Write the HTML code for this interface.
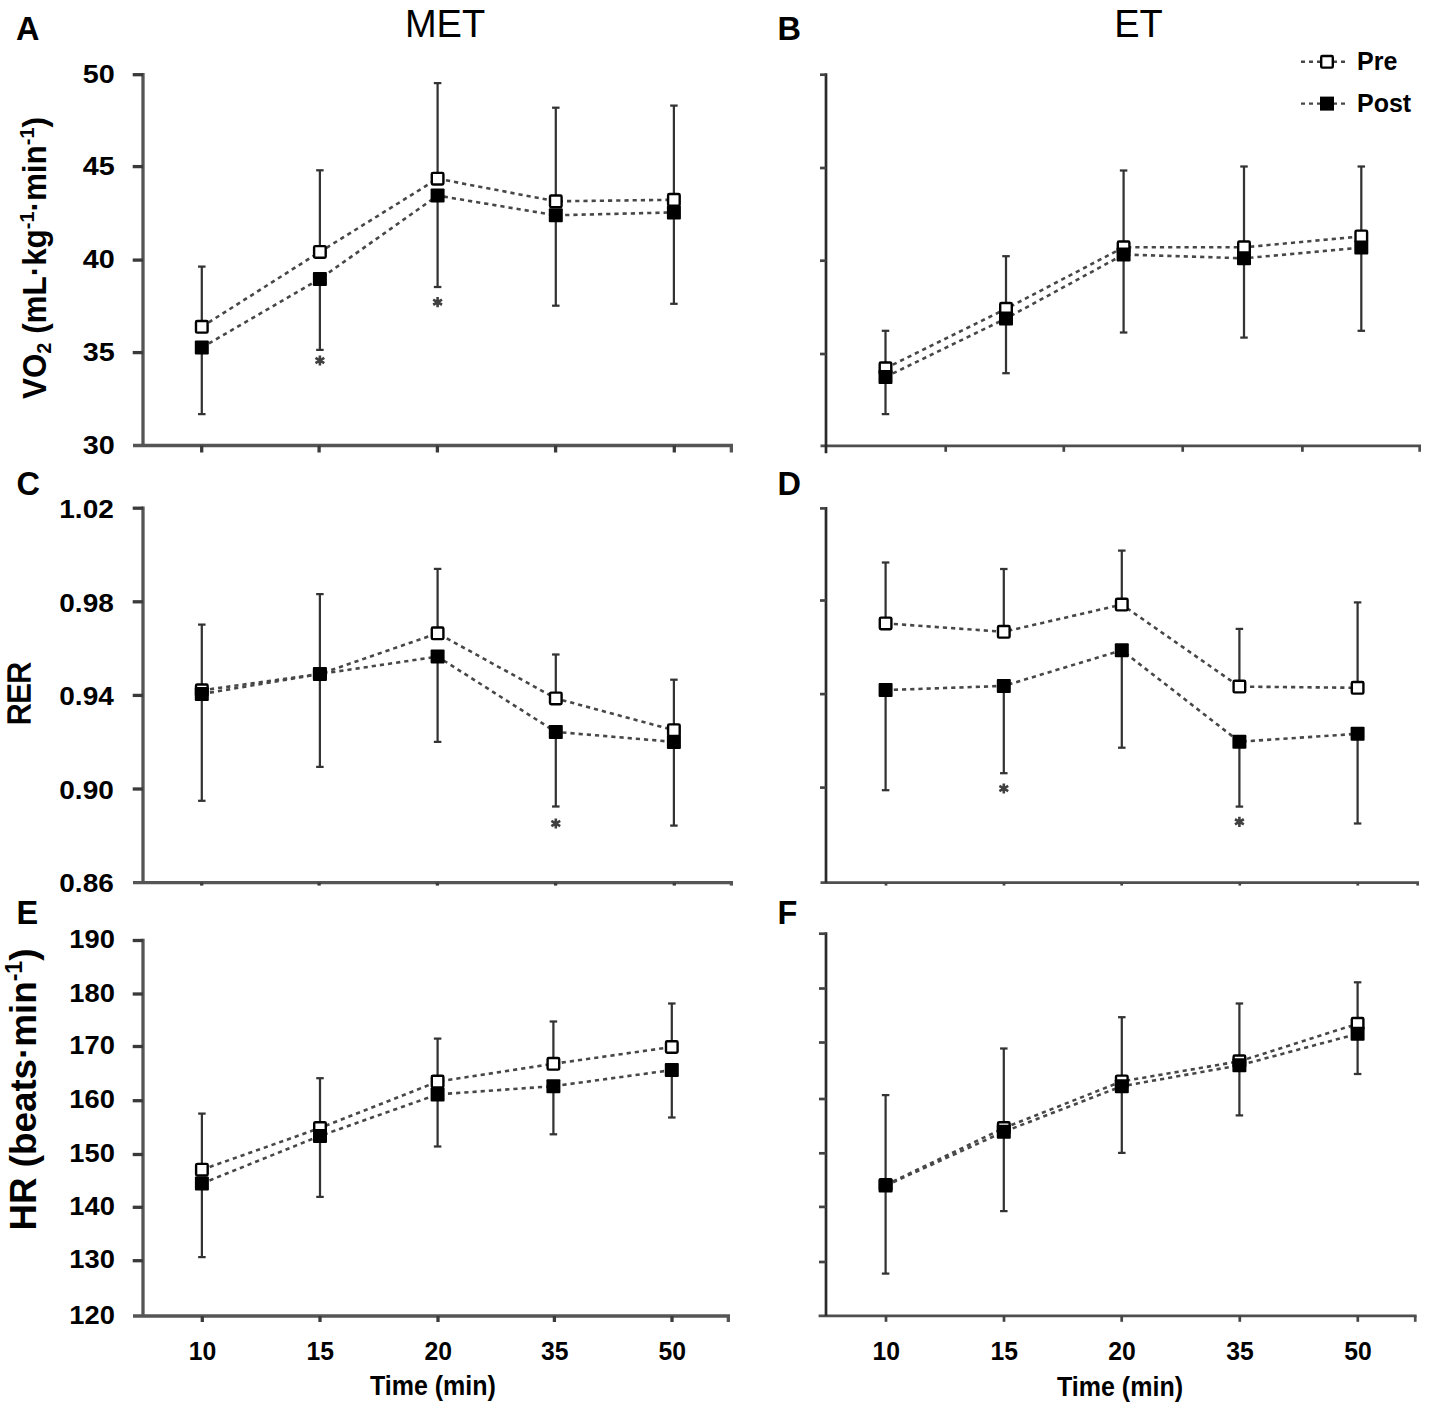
<!DOCTYPE html>
<html><head><meta charset="utf-8"><style>
html,body{margin:0;padding:0;background:#fff;}
body{width:1429px;height:1415px;overflow:hidden;}
svg{display:block;}
#wrap{width:1429px;height:1415px;}
</style></head><body><div id="wrap">
<svg width="1429" height="1415" viewBox="0 0 1429 1415" font-family='"Liberation Sans", sans-serif'>
<rect width="1429" height="1415" fill="#fff"/>
<line x1="133.00" y1="445.50" x2="733.00" y2="445.50" stroke="#555" stroke-width="3.3" />
<line x1="201.70" y1="445.50" x2="201.70" y2="452.50" stroke="#3a3a3a" stroke-width="3.3" />
<line x1="319.10" y1="445.50" x2="319.10" y2="452.50" stroke="#3a3a3a" stroke-width="3.3" />
<line x1="437.40" y1="445.50" x2="437.40" y2="452.50" stroke="#3a3a3a" stroke-width="3.3" />
<line x1="555.60" y1="445.50" x2="555.60" y2="452.50" stroke="#3a3a3a" stroke-width="3.3" />
<line x1="674.30" y1="445.50" x2="674.30" y2="452.50" stroke="#3a3a3a" stroke-width="3.3" />
<line x1="731.35" y1="445.50" x2="731.35" y2="452.50" stroke="#555" stroke-width="3.3" />
<line x1="143.00" y1="73.05" x2="143.00" y2="445.50" stroke="#555" stroke-width="3.3" />
<line x1="132.70" y1="74.70" x2="143.00" y2="74.70" stroke="#3a3a3a" stroke-width="3.3" />
<line x1="132.70" y1="166.60" x2="143.00" y2="166.60" stroke="#3a3a3a" stroke-width="3.3" />
<line x1="132.70" y1="260.10" x2="143.00" y2="260.10" stroke="#3a3a3a" stroke-width="3.3" />
<line x1="132.70" y1="352.60" x2="143.00" y2="352.60" stroke="#3a3a3a" stroke-width="3.3" />
<line x1="820.50" y1="445.80" x2="1421.00" y2="445.80" stroke="#4e4e4e" stroke-width="2.7" />
<line x1="945.70" y1="445.80" x2="945.70" y2="451.80" stroke="#444" stroke-width="2.7" />
<line x1="1063.80" y1="445.80" x2="1063.80" y2="451.80" stroke="#444" stroke-width="2.7" />
<line x1="1182.70" y1="445.80" x2="1182.70" y2="451.80" stroke="#444" stroke-width="2.7" />
<line x1="1302.40" y1="445.80" x2="1302.40" y2="451.80" stroke="#444" stroke-width="2.7" />
<line x1="1419.65" y1="445.80" x2="1419.65" y2="451.80" stroke="#4e4e4e" stroke-width="2.7" />
<line x1="826.00" y1="73.35" x2="826.00" y2="453.30" stroke="#2a2a2a" stroke-width="2.7" />
<line x1="820.00" y1="74.70" x2="826.00" y2="74.70" stroke="#444" stroke-width="2.7" />
<line x1="820.00" y1="168.00" x2="826.00" y2="168.00" stroke="#444" stroke-width="2.7" />
<line x1="820.00" y1="260.70" x2="826.00" y2="260.70" stroke="#444" stroke-width="2.7" />
<line x1="820.00" y1="354.00" x2="826.00" y2="354.00" stroke="#444" stroke-width="2.7" />
<line x1="133.00" y1="882.60" x2="733.00" y2="882.60" stroke="#555" stroke-width="3.3" />
<line x1="201.70" y1="882.60" x2="201.70" y2="885.60" stroke="#3a3a3a" stroke-width="3.3" />
<line x1="319.10" y1="882.60" x2="319.10" y2="885.60" stroke="#3a3a3a" stroke-width="3.3" />
<line x1="437.40" y1="882.60" x2="437.40" y2="885.60" stroke="#3a3a3a" stroke-width="3.3" />
<line x1="555.60" y1="882.60" x2="555.60" y2="885.60" stroke="#3a3a3a" stroke-width="3.3" />
<line x1="674.30" y1="882.60" x2="674.30" y2="885.60" stroke="#3a3a3a" stroke-width="3.3" />
<line x1="731.35" y1="882.60" x2="731.35" y2="885.60" stroke="#555" stroke-width="3.3" />
<line x1="143.00" y1="506.55" x2="143.00" y2="882.60" stroke="#555" stroke-width="3.3" />
<line x1="132.70" y1="508.20" x2="143.00" y2="508.20" stroke="#3a3a3a" stroke-width="3.3" />
<line x1="132.70" y1="601.80" x2="143.00" y2="601.80" stroke="#3a3a3a" stroke-width="3.3" />
<line x1="132.70" y1="695.40" x2="143.00" y2="695.40" stroke="#3a3a3a" stroke-width="3.3" />
<line x1="132.70" y1="789.00" x2="143.00" y2="789.00" stroke="#3a3a3a" stroke-width="3.3" />
<line x1="820.50" y1="882.60" x2="1419.00" y2="882.60" stroke="#4e4e4e" stroke-width="2.7" />
<line x1="886.00" y1="882.60" x2="886.00" y2="885.60" stroke="#444" stroke-width="2.7" />
<line x1="1004.00" y1="882.60" x2="1004.00" y2="885.60" stroke="#444" stroke-width="2.7" />
<line x1="1121.70" y1="882.60" x2="1121.70" y2="885.60" stroke="#444" stroke-width="2.7" />
<line x1="1239.80" y1="882.60" x2="1239.80" y2="885.60" stroke="#444" stroke-width="2.7" />
<line x1="1357.80" y1="882.60" x2="1357.80" y2="885.60" stroke="#444" stroke-width="2.7" />
<line x1="1417.65" y1="882.60" x2="1417.65" y2="885.60" stroke="#4e4e4e" stroke-width="2.7" />
<line x1="826.00" y1="507.05" x2="826.00" y2="882.60" stroke="#2a2a2a" stroke-width="2.7" />
<line x1="820.00" y1="508.40" x2="826.00" y2="508.40" stroke="#444" stroke-width="2.7" />
<line x1="820.00" y1="600.50" x2="826.00" y2="600.50" stroke="#444" stroke-width="2.7" />
<line x1="820.00" y1="694.10" x2="826.00" y2="694.10" stroke="#444" stroke-width="2.7" />
<line x1="820.00" y1="787.60" x2="826.00" y2="787.60" stroke="#444" stroke-width="2.7" />
<line x1="133.00" y1="1316.00" x2="730.00" y2="1316.00" stroke="#555" stroke-width="3.3" />
<line x1="202.30" y1="1316.00" x2="202.30" y2="1322.00" stroke="#3a3a3a" stroke-width="3.3" />
<line x1="320.00" y1="1316.00" x2="320.00" y2="1322.00" stroke="#3a3a3a" stroke-width="3.3" />
<line x1="438.00" y1="1316.00" x2="438.00" y2="1322.00" stroke="#3a3a3a" stroke-width="3.3" />
<line x1="554.40" y1="1316.00" x2="554.40" y2="1322.00" stroke="#3a3a3a" stroke-width="3.3" />
<line x1="672.00" y1="1316.00" x2="672.00" y2="1322.00" stroke="#3a3a3a" stroke-width="3.3" />
<line x1="728.35" y1="1316.00" x2="728.35" y2="1322.00" stroke="#555" stroke-width="3.3" />
<line x1="143.00" y1="938.85" x2="143.00" y2="1316.00" stroke="#555" stroke-width="3.3" />
<line x1="132.70" y1="940.50" x2="143.00" y2="940.50" stroke="#3a3a3a" stroke-width="3.3" />
<line x1="132.70" y1="994.00" x2="143.00" y2="994.00" stroke="#3a3a3a" stroke-width="3.3" />
<line x1="132.70" y1="1046.50" x2="143.00" y2="1046.50" stroke="#3a3a3a" stroke-width="3.3" />
<line x1="132.70" y1="1100.70" x2="143.00" y2="1100.70" stroke="#3a3a3a" stroke-width="3.3" />
<line x1="132.70" y1="1154.50" x2="143.00" y2="1154.50" stroke="#3a3a3a" stroke-width="3.3" />
<line x1="132.70" y1="1207.30" x2="143.00" y2="1207.30" stroke="#3a3a3a" stroke-width="3.3" />
<line x1="132.70" y1="1260.70" x2="143.00" y2="1260.70" stroke="#3a3a3a" stroke-width="3.3" />
<line x1="818.60" y1="1315.80" x2="1416.60" y2="1315.80" stroke="#4e4e4e" stroke-width="2.7" />
<line x1="886.00" y1="1315.80" x2="886.00" y2="1321.80" stroke="#444" stroke-width="2.7" />
<line x1="1004.00" y1="1315.80" x2="1004.00" y2="1321.80" stroke="#444" stroke-width="2.7" />
<line x1="1121.70" y1="1315.80" x2="1121.70" y2="1321.80" stroke="#444" stroke-width="2.7" />
<line x1="1239.80" y1="1315.80" x2="1239.80" y2="1321.80" stroke="#444" stroke-width="2.7" />
<line x1="1357.80" y1="1315.80" x2="1357.80" y2="1321.80" stroke="#444" stroke-width="2.7" />
<line x1="1415.25" y1="1315.80" x2="1415.25" y2="1321.80" stroke="#4e4e4e" stroke-width="2.7" />
<line x1="826.00" y1="932.35" x2="826.00" y2="1315.80" stroke="#2a2a2a" stroke-width="2.7" />
<line x1="819.00" y1="933.70" x2="826.00" y2="933.70" stroke="#444" stroke-width="2.7" />
<line x1="819.00" y1="988.50" x2="826.00" y2="988.50" stroke="#444" stroke-width="2.7" />
<line x1="819.00" y1="1042.50" x2="826.00" y2="1042.50" stroke="#444" stroke-width="2.7" />
<line x1="819.00" y1="1099.00" x2="826.00" y2="1099.00" stroke="#444" stroke-width="2.7" />
<line x1="819.00" y1="1153.30" x2="826.00" y2="1153.30" stroke="#444" stroke-width="2.7" />
<line x1="819.00" y1="1206.90" x2="826.00" y2="1206.90" stroke="#444" stroke-width="2.7" />
<line x1="819.00" y1="1262.00" x2="826.00" y2="1262.00" stroke="#444" stroke-width="2.7" />
<line x1="201.80" y1="266.60" x2="201.80" y2="326.80" stroke="#333" stroke-width="2.25" />
<line x1="198.05" y1="266.60" x2="205.55" y2="266.60" stroke="#333" stroke-width="2.25" />
<line x1="201.80" y1="347.50" x2="201.80" y2="414.10" stroke="#333" stroke-width="2.25" />
<line x1="198.05" y1="414.10" x2="205.55" y2="414.10" stroke="#333" stroke-width="2.25" />
<line x1="319.90" y1="170.30" x2="319.90" y2="251.90" stroke="#333" stroke-width="2.25" />
<line x1="316.15" y1="170.30" x2="323.65" y2="170.30" stroke="#333" stroke-width="2.25" />
<line x1="319.90" y1="278.90" x2="319.90" y2="349.90" stroke="#333" stroke-width="2.25" />
<line x1="316.15" y1="349.90" x2="323.65" y2="349.90" stroke="#333" stroke-width="2.25" />
<line x1="437.60" y1="83.10" x2="437.60" y2="178.70" stroke="#333" stroke-width="2.25" />
<line x1="433.85" y1="83.10" x2="441.35" y2="83.10" stroke="#333" stroke-width="2.25" />
<line x1="437.60" y1="195.60" x2="437.60" y2="287.00" stroke="#333" stroke-width="2.25" />
<line x1="433.85" y1="287.00" x2="441.35" y2="287.00" stroke="#333" stroke-width="2.25" />
<line x1="555.80" y1="107.70" x2="555.80" y2="201.30" stroke="#333" stroke-width="2.25" />
<line x1="552.05" y1="107.70" x2="559.55" y2="107.70" stroke="#333" stroke-width="2.25" />
<line x1="555.80" y1="215.30" x2="555.80" y2="305.70" stroke="#333" stroke-width="2.25" />
<line x1="552.05" y1="305.70" x2="559.55" y2="305.70" stroke="#333" stroke-width="2.25" />
<line x1="673.90" y1="105.60" x2="673.90" y2="199.80" stroke="#333" stroke-width="2.25" />
<line x1="670.15" y1="105.60" x2="677.65" y2="105.60" stroke="#333" stroke-width="2.25" />
<line x1="673.90" y1="212.40" x2="673.90" y2="303.80" stroke="#333" stroke-width="2.25" />
<line x1="670.15" y1="303.80" x2="677.65" y2="303.80" stroke="#333" stroke-width="2.25" />
<polyline points="201.80,326.80 319.90,251.90 437.60,178.70 555.80,201.30 673.90,199.80" fill="none" stroke="#474747" stroke-width="2.6" stroke-dasharray="4.2 4.0"/>
<polyline points="201.80,347.50 319.90,278.90 437.60,195.60 555.80,215.30 673.90,212.40" fill="none" stroke="#474747" stroke-width="2.6" stroke-dasharray="4.2 4.0"/>
<rect x="196.00" y="321.00" width="11.60" height="11.60" fill="#fff" stroke="#000" stroke-width="2.4" rx="1.2"/>
<rect x="314.10" y="246.10" width="11.60" height="11.60" fill="#fff" stroke="#000" stroke-width="2.4" rx="1.2"/>
<rect x="431.80" y="172.90" width="11.60" height="11.60" fill="#fff" stroke="#000" stroke-width="2.4" rx="1.2"/>
<rect x="550.00" y="195.50" width="11.60" height="11.60" fill="#fff" stroke="#000" stroke-width="2.4" rx="1.2"/>
<rect x="668.10" y="194.00" width="11.60" height="11.60" fill="#fff" stroke="#000" stroke-width="2.4" rx="1.2"/>
<rect x="194.80" y="340.50" width="14.00" height="14.00" fill="#000" rx="1"/>
<rect x="312.90" y="271.90" width="14.00" height="14.00" fill="#000" rx="1"/>
<rect x="430.60" y="188.60" width="14.00" height="14.00" fill="#000" rx="1"/>
<rect x="548.80" y="208.30" width="14.00" height="14.00" fill="#000" rx="1"/>
<rect x="666.90" y="205.40" width="14.00" height="14.00" fill="#000" rx="1"/>
<line x1="885.50" y1="330.80" x2="885.50" y2="368.30" stroke="#333" stroke-width="2.25" />
<line x1="881.75" y1="330.80" x2="889.25" y2="330.80" stroke="#333" stroke-width="2.25" />
<line x1="885.50" y1="377.00" x2="885.50" y2="414.10" stroke="#333" stroke-width="2.25" />
<line x1="881.75" y1="414.10" x2="889.25" y2="414.10" stroke="#333" stroke-width="2.25" />
<line x1="1006.00" y1="256.20" x2="1006.00" y2="308.80" stroke="#333" stroke-width="2.25" />
<line x1="1002.25" y1="256.20" x2="1009.75" y2="256.20" stroke="#333" stroke-width="2.25" />
<line x1="1006.00" y1="318.50" x2="1006.00" y2="373.20" stroke="#333" stroke-width="2.25" />
<line x1="1002.25" y1="373.20" x2="1009.75" y2="373.20" stroke="#333" stroke-width="2.25" />
<line x1="1123.60" y1="170.50" x2="1123.60" y2="247.30" stroke="#333" stroke-width="2.25" />
<line x1="1119.85" y1="170.50" x2="1127.35" y2="170.50" stroke="#333" stroke-width="2.25" />
<line x1="1123.60" y1="254.50" x2="1123.60" y2="332.50" stroke="#333" stroke-width="2.25" />
<line x1="1119.85" y1="332.50" x2="1127.35" y2="332.50" stroke="#333" stroke-width="2.25" />
<line x1="1244.00" y1="166.50" x2="1244.00" y2="247.30" stroke="#333" stroke-width="2.25" />
<line x1="1240.25" y1="166.50" x2="1247.75" y2="166.50" stroke="#333" stroke-width="2.25" />
<line x1="1244.00" y1="258.30" x2="1244.00" y2="337.60" stroke="#333" stroke-width="2.25" />
<line x1="1240.25" y1="337.60" x2="1247.75" y2="337.60" stroke="#333" stroke-width="2.25" />
<line x1="1361.30" y1="166.50" x2="1361.30" y2="236.40" stroke="#333" stroke-width="2.25" />
<line x1="1357.55" y1="166.50" x2="1365.05" y2="166.50" stroke="#333" stroke-width="2.25" />
<line x1="1361.30" y1="247.60" x2="1361.30" y2="330.80" stroke="#333" stroke-width="2.25" />
<line x1="1357.55" y1="330.80" x2="1365.05" y2="330.80" stroke="#333" stroke-width="2.25" />
<polyline points="885.50,368.30 1006.00,308.80 1123.60,247.30 1244.00,247.30 1361.30,236.40" fill="none" stroke="#474747" stroke-width="2.6" stroke-dasharray="4.2 4.0"/>
<polyline points="885.50,377.00 1006.00,318.50 1123.60,254.50 1244.00,258.30 1361.30,247.60" fill="none" stroke="#474747" stroke-width="2.6" stroke-dasharray="4.2 4.0"/>
<rect x="879.70" y="362.50" width="11.60" height="11.60" fill="#fff" stroke="#000" stroke-width="2.4" rx="1.2"/>
<rect x="1000.20" y="303.00" width="11.60" height="11.60" fill="#fff" stroke="#000" stroke-width="2.4" rx="1.2"/>
<rect x="1117.80" y="241.50" width="11.60" height="11.60" fill="#fff" stroke="#000" stroke-width="2.4" rx="1.2"/>
<rect x="1238.20" y="241.50" width="11.60" height="11.60" fill="#fff" stroke="#000" stroke-width="2.4" rx="1.2"/>
<rect x="1355.50" y="230.60" width="11.60" height="11.60" fill="#fff" stroke="#000" stroke-width="2.4" rx="1.2"/>
<rect x="878.50" y="370.00" width="14.00" height="14.00" fill="#000" rx="1"/>
<rect x="999.00" y="311.50" width="14.00" height="14.00" fill="#000" rx="1"/>
<rect x="1116.60" y="247.50" width="14.00" height="14.00" fill="#000" rx="1"/>
<rect x="1237.00" y="251.30" width="14.00" height="14.00" fill="#000" rx="1"/>
<rect x="1354.30" y="240.60" width="14.00" height="14.00" fill="#000" rx="1"/>
<line x1="201.80" y1="624.60" x2="201.80" y2="690.30" stroke="#333" stroke-width="2.25" />
<line x1="198.05" y1="624.60" x2="205.55" y2="624.60" stroke="#333" stroke-width="2.25" />
<line x1="201.80" y1="694.00" x2="201.80" y2="800.80" stroke="#333" stroke-width="2.25" />
<line x1="198.05" y1="800.80" x2="205.55" y2="800.80" stroke="#333" stroke-width="2.25" />
<line x1="319.90" y1="594.10" x2="319.90" y2="674.00" stroke="#333" stroke-width="2.25" />
<line x1="316.15" y1="594.10" x2="323.65" y2="594.10" stroke="#333" stroke-width="2.25" />
<line x1="319.90" y1="674.00" x2="319.90" y2="766.90" stroke="#333" stroke-width="2.25" />
<line x1="316.15" y1="766.90" x2="323.65" y2="766.90" stroke="#333" stroke-width="2.25" />
<line x1="437.60" y1="568.90" x2="437.60" y2="633.30" stroke="#333" stroke-width="2.25" />
<line x1="433.85" y1="568.90" x2="441.35" y2="568.90" stroke="#333" stroke-width="2.25" />
<line x1="437.60" y1="656.60" x2="437.60" y2="741.90" stroke="#333" stroke-width="2.25" />
<line x1="433.85" y1="741.90" x2="441.35" y2="741.90" stroke="#333" stroke-width="2.25" />
<line x1="555.80" y1="654.50" x2="555.80" y2="698.40" stroke="#333" stroke-width="2.25" />
<line x1="552.05" y1="654.50" x2="559.55" y2="654.50" stroke="#333" stroke-width="2.25" />
<line x1="555.80" y1="731.90" x2="555.80" y2="806.50" stroke="#333" stroke-width="2.25" />
<line x1="552.05" y1="806.50" x2="559.55" y2="806.50" stroke="#333" stroke-width="2.25" />
<line x1="673.90" y1="679.70" x2="673.90" y2="730.20" stroke="#333" stroke-width="2.25" />
<line x1="670.15" y1="679.70" x2="677.65" y2="679.70" stroke="#333" stroke-width="2.25" />
<line x1="673.90" y1="741.90" x2="673.90" y2="825.60" stroke="#333" stroke-width="2.25" />
<line x1="670.15" y1="825.60" x2="677.65" y2="825.60" stroke="#333" stroke-width="2.25" />
<polyline points="201.80,690.30 319.90,674.00 437.60,633.30 555.80,698.40 673.90,730.20" fill="none" stroke="#474747" stroke-width="2.6" stroke-dasharray="4.2 4.0"/>
<polyline points="201.80,694.00 319.90,674.00 437.60,656.60 555.80,731.90 673.90,741.90" fill="none" stroke="#474747" stroke-width="2.6" stroke-dasharray="4.2 4.0"/>
<rect x="196.00" y="684.50" width="11.60" height="11.60" fill="#fff" stroke="#000" stroke-width="2.4" rx="1.2"/>
<rect x="314.10" y="668.20" width="11.60" height="11.60" fill="#fff" stroke="#000" stroke-width="2.4" rx="1.2"/>
<rect x="431.80" y="627.50" width="11.60" height="11.60" fill="#fff" stroke="#000" stroke-width="2.4" rx="1.2"/>
<rect x="550.00" y="692.60" width="11.60" height="11.60" fill="#fff" stroke="#000" stroke-width="2.4" rx="1.2"/>
<rect x="668.10" y="724.40" width="11.60" height="11.60" fill="#fff" stroke="#000" stroke-width="2.4" rx="1.2"/>
<rect x="194.80" y="687.00" width="14.00" height="14.00" fill="#000" rx="1"/>
<rect x="312.90" y="667.00" width="14.00" height="14.00" fill="#000" rx="1"/>
<rect x="430.60" y="649.60" width="14.00" height="14.00" fill="#000" rx="1"/>
<rect x="548.80" y="724.90" width="14.00" height="14.00" fill="#000" rx="1"/>
<rect x="666.90" y="734.90" width="14.00" height="14.00" fill="#000" rx="1"/>
<line x1="885.60" y1="562.50" x2="885.60" y2="623.40" stroke="#333" stroke-width="2.25" />
<line x1="881.85" y1="562.50" x2="889.35" y2="562.50" stroke="#333" stroke-width="2.25" />
<line x1="885.60" y1="690.10" x2="885.60" y2="790.20" stroke="#333" stroke-width="2.25" />
<line x1="881.85" y1="790.20" x2="889.35" y2="790.20" stroke="#333" stroke-width="2.25" />
<line x1="1003.80" y1="569.00" x2="1003.80" y2="631.80" stroke="#333" stroke-width="2.25" />
<line x1="1000.05" y1="569.00" x2="1007.55" y2="569.00" stroke="#333" stroke-width="2.25" />
<line x1="1003.80" y1="685.90" x2="1003.80" y2="773.20" stroke="#333" stroke-width="2.25" />
<line x1="1000.05" y1="773.20" x2="1007.55" y2="773.20" stroke="#333" stroke-width="2.25" />
<line x1="1121.80" y1="550.60" x2="1121.80" y2="604.60" stroke="#333" stroke-width="2.25" />
<line x1="1118.05" y1="550.60" x2="1125.55" y2="550.60" stroke="#333" stroke-width="2.25" />
<line x1="1121.80" y1="650.30" x2="1121.80" y2="747.70" stroke="#333" stroke-width="2.25" />
<line x1="1118.05" y1="747.70" x2="1125.55" y2="747.70" stroke="#333" stroke-width="2.25" />
<line x1="1239.40" y1="628.90" x2="1239.40" y2="686.60" stroke="#333" stroke-width="2.25" />
<line x1="1235.65" y1="628.90" x2="1243.15" y2="628.90" stroke="#333" stroke-width="2.25" />
<line x1="1239.40" y1="741.70" x2="1239.40" y2="806.60" stroke="#333" stroke-width="2.25" />
<line x1="1235.65" y1="806.60" x2="1243.15" y2="806.60" stroke="#333" stroke-width="2.25" />
<line x1="1357.60" y1="602.40" x2="1357.60" y2="687.80" stroke="#333" stroke-width="2.25" />
<line x1="1353.85" y1="602.40" x2="1361.35" y2="602.40" stroke="#333" stroke-width="2.25" />
<line x1="1357.60" y1="733.80" x2="1357.60" y2="823.50" stroke="#333" stroke-width="2.25" />
<line x1="1353.85" y1="823.50" x2="1361.35" y2="823.50" stroke="#333" stroke-width="2.25" />
<polyline points="885.60,623.40 1003.80,631.80 1121.80,604.60 1239.40,686.60 1357.60,687.80" fill="none" stroke="#474747" stroke-width="2.6" stroke-dasharray="4.2 4.0"/>
<polyline points="885.60,690.10 1003.80,685.90 1121.80,650.30 1239.40,741.70 1357.60,733.80" fill="none" stroke="#474747" stroke-width="2.6" stroke-dasharray="4.2 4.0"/>
<rect x="879.80" y="617.60" width="11.60" height="11.60" fill="#fff" stroke="#000" stroke-width="2.4" rx="1.2"/>
<rect x="998.00" y="626.00" width="11.60" height="11.60" fill="#fff" stroke="#000" stroke-width="2.4" rx="1.2"/>
<rect x="1116.00" y="598.80" width="11.60" height="11.60" fill="#fff" stroke="#000" stroke-width="2.4" rx="1.2"/>
<rect x="1233.60" y="680.80" width="11.60" height="11.60" fill="#fff" stroke="#000" stroke-width="2.4" rx="1.2"/>
<rect x="1351.80" y="682.00" width="11.60" height="11.60" fill="#fff" stroke="#000" stroke-width="2.4" rx="1.2"/>
<rect x="878.60" y="683.10" width="14.00" height="14.00" fill="#000" rx="1"/>
<rect x="996.80" y="678.90" width="14.00" height="14.00" fill="#000" rx="1"/>
<rect x="1114.80" y="643.30" width="14.00" height="14.00" fill="#000" rx="1"/>
<rect x="1232.40" y="734.70" width="14.00" height="14.00" fill="#000" rx="1"/>
<rect x="1350.60" y="726.80" width="14.00" height="14.00" fill="#000" rx="1"/>
<line x1="201.90" y1="1113.60" x2="201.90" y2="1169.70" stroke="#333" stroke-width="2.25" />
<line x1="198.15" y1="1113.60" x2="205.65" y2="1113.60" stroke="#333" stroke-width="2.25" />
<line x1="201.90" y1="1183.50" x2="201.90" y2="1257.10" stroke="#333" stroke-width="2.25" />
<line x1="198.15" y1="1257.10" x2="205.65" y2="1257.10" stroke="#333" stroke-width="2.25" />
<line x1="320.00" y1="1078.20" x2="320.00" y2="1128.00" stroke="#333" stroke-width="2.25" />
<line x1="316.25" y1="1078.20" x2="323.75" y2="1078.20" stroke="#333" stroke-width="2.25" />
<line x1="320.00" y1="1135.90" x2="320.00" y2="1196.90" stroke="#333" stroke-width="2.25" />
<line x1="316.25" y1="1196.90" x2="323.75" y2="1196.90" stroke="#333" stroke-width="2.25" />
<line x1="437.60" y1="1038.60" x2="437.60" y2="1081.60" stroke="#333" stroke-width="2.25" />
<line x1="433.85" y1="1038.60" x2="441.35" y2="1038.60" stroke="#333" stroke-width="2.25" />
<line x1="437.60" y1="1094.40" x2="437.60" y2="1146.50" stroke="#333" stroke-width="2.25" />
<line x1="433.85" y1="1146.50" x2="441.35" y2="1146.50" stroke="#333" stroke-width="2.25" />
<line x1="553.40" y1="1021.50" x2="553.40" y2="1063.80" stroke="#333" stroke-width="2.25" />
<line x1="549.65" y1="1021.50" x2="557.15" y2="1021.50" stroke="#333" stroke-width="2.25" />
<line x1="553.40" y1="1086.20" x2="553.40" y2="1134.30" stroke="#333" stroke-width="2.25" />
<line x1="549.65" y1="1134.30" x2="557.15" y2="1134.30" stroke="#333" stroke-width="2.25" />
<line x1="671.80" y1="1003.50" x2="671.80" y2="1047.00" stroke="#333" stroke-width="2.25" />
<line x1="668.05" y1="1003.50" x2="675.55" y2="1003.50" stroke="#333" stroke-width="2.25" />
<line x1="671.80" y1="1070.10" x2="671.80" y2="1117.50" stroke="#333" stroke-width="2.25" />
<line x1="668.05" y1="1117.50" x2="675.55" y2="1117.50" stroke="#333" stroke-width="2.25" />
<polyline points="201.90,1169.70 320.00,1128.00 437.60,1081.60 553.40,1063.80 671.80,1047.00" fill="none" stroke="#474747" stroke-width="2.6" stroke-dasharray="4.2 4.0"/>
<polyline points="201.90,1183.50 320.00,1135.90 437.60,1094.40 553.40,1086.20 671.80,1070.10" fill="none" stroke="#474747" stroke-width="2.6" stroke-dasharray="4.2 4.0"/>
<rect x="196.10" y="1163.90" width="11.60" height="11.60" fill="#fff" stroke="#000" stroke-width="2.4" rx="1.2"/>
<rect x="314.20" y="1122.20" width="11.60" height="11.60" fill="#fff" stroke="#000" stroke-width="2.4" rx="1.2"/>
<rect x="431.80" y="1075.80" width="11.60" height="11.60" fill="#fff" stroke="#000" stroke-width="2.4" rx="1.2"/>
<rect x="547.60" y="1058.00" width="11.60" height="11.60" fill="#fff" stroke="#000" stroke-width="2.4" rx="1.2"/>
<rect x="666.00" y="1041.20" width="11.60" height="11.60" fill="#fff" stroke="#000" stroke-width="2.4" rx="1.2"/>
<rect x="194.90" y="1176.50" width="14.00" height="14.00" fill="#000" rx="1"/>
<rect x="313.00" y="1128.90" width="14.00" height="14.00" fill="#000" rx="1"/>
<rect x="430.60" y="1087.40" width="14.00" height="14.00" fill="#000" rx="1"/>
<rect x="546.40" y="1079.20" width="14.00" height="14.00" fill="#000" rx="1"/>
<rect x="664.80" y="1063.10" width="14.00" height="14.00" fill="#000" rx="1"/>
<line x1="885.60" y1="1095.10" x2="885.60" y2="1185.00" stroke="#333" stroke-width="2.25" />
<line x1="881.85" y1="1095.10" x2="889.35" y2="1095.10" stroke="#333" stroke-width="2.25" />
<line x1="885.60" y1="1185.60" x2="885.60" y2="1273.60" stroke="#333" stroke-width="2.25" />
<line x1="881.85" y1="1273.60" x2="889.35" y2="1273.60" stroke="#333" stroke-width="2.25" />
<line x1="1003.80" y1="1048.50" x2="1003.80" y2="1128.00" stroke="#333" stroke-width="2.25" />
<line x1="1000.05" y1="1048.50" x2="1007.55" y2="1048.50" stroke="#333" stroke-width="2.25" />
<line x1="1003.80" y1="1131.80" x2="1003.80" y2="1211.10" stroke="#333" stroke-width="2.25" />
<line x1="1000.05" y1="1211.10" x2="1007.55" y2="1211.10" stroke="#333" stroke-width="2.25" />
<line x1="1121.80" y1="1017.20" x2="1121.80" y2="1081.40" stroke="#333" stroke-width="2.25" />
<line x1="1118.05" y1="1017.20" x2="1125.55" y2="1017.20" stroke="#333" stroke-width="2.25" />
<line x1="1121.80" y1="1086.20" x2="1121.80" y2="1152.90" stroke="#333" stroke-width="2.25" />
<line x1="1118.05" y1="1152.90" x2="1125.55" y2="1152.90" stroke="#333" stroke-width="2.25" />
<line x1="1239.40" y1="1003.50" x2="1239.40" y2="1061.30" stroke="#333" stroke-width="2.25" />
<line x1="1235.65" y1="1003.50" x2="1243.15" y2="1003.50" stroke="#333" stroke-width="2.25" />
<line x1="1239.40" y1="1065.30" x2="1239.40" y2="1115.40" stroke="#333" stroke-width="2.25" />
<line x1="1235.65" y1="1115.40" x2="1243.15" y2="1115.40" stroke="#333" stroke-width="2.25" />
<line x1="1357.60" y1="982.30" x2="1357.60" y2="1023.80" stroke="#333" stroke-width="2.25" />
<line x1="1353.85" y1="982.30" x2="1361.35" y2="982.30" stroke="#333" stroke-width="2.25" />
<line x1="1357.60" y1="1033.80" x2="1357.60" y2="1074.00" stroke="#333" stroke-width="2.25" />
<line x1="1353.85" y1="1074.00" x2="1361.35" y2="1074.00" stroke="#333" stroke-width="2.25" />
<polyline points="885.60,1185.00 1003.80,1128.00 1121.80,1081.40 1239.40,1061.30 1357.60,1023.80" fill="none" stroke="#474747" stroke-width="2.6" stroke-dasharray="4.2 4.0"/>
<polyline points="885.60,1185.60 1003.80,1131.80 1121.80,1086.20 1239.40,1065.30 1357.60,1033.80" fill="none" stroke="#474747" stroke-width="2.6" stroke-dasharray="4.2 4.0"/>
<rect x="879.80" y="1179.20" width="11.60" height="11.60" fill="#fff" stroke="#000" stroke-width="2.4" rx="1.2"/>
<rect x="998.00" y="1122.20" width="11.60" height="11.60" fill="#fff" stroke="#000" stroke-width="2.4" rx="1.2"/>
<rect x="1116.00" y="1075.60" width="11.60" height="11.60" fill="#fff" stroke="#000" stroke-width="2.4" rx="1.2"/>
<rect x="1233.60" y="1055.50" width="11.60" height="11.60" fill="#fff" stroke="#000" stroke-width="2.4" rx="1.2"/>
<rect x="1351.80" y="1018.00" width="11.60" height="11.60" fill="#fff" stroke="#000" stroke-width="2.4" rx="1.2"/>
<rect x="878.60" y="1178.60" width="14.00" height="14.00" fill="#000" rx="1"/>
<rect x="996.80" y="1124.80" width="14.00" height="14.00" fill="#000" rx="1"/>
<rect x="1114.80" y="1079.20" width="14.00" height="14.00" fill="#000" rx="1"/>
<rect x="1232.40" y="1058.30" width="14.00" height="14.00" fill="#000" rx="1"/>
<rect x="1350.60" y="1026.80" width="14.00" height="14.00" fill="#000" rx="1"/>
<path d="M319.90,355.40L319.90,365.60M315.48,357.95L324.32,363.05M315.48,363.05L324.32,357.95" stroke="#404040" stroke-width="2.6" fill="none"/>
<path d="M437.60,297.10L437.60,307.30M433.18,299.65L442.02,304.75M433.18,304.75L442.02,299.65" stroke="#404040" stroke-width="2.6" fill="none"/>
<path d="M555.80,818.40L555.80,828.60M551.38,820.95L560.22,826.05M551.38,826.05L560.22,820.95" stroke="#404040" stroke-width="2.6" fill="none"/>
<path d="M1003.80,783.40L1003.80,793.60M999.38,785.95L1008.22,791.05M999.38,791.05L1008.22,785.95" stroke="#404040" stroke-width="2.6" fill="none"/>
<path d="M1239.40,816.70L1239.40,826.90M1234.98,819.25L1243.82,824.35M1234.98,824.35L1243.82,819.25" stroke="#404040" stroke-width="2.6" fill="none"/>
<text x="114.80" y="82.71" font-size="26.0" font-weight="bold" text-anchor="end" fill="#000" textLength="32" lengthAdjust="spacingAndGlyphs">50</text>
<text x="114.80" y="174.61" font-size="26.0" font-weight="bold" text-anchor="end" fill="#000" textLength="32" lengthAdjust="spacingAndGlyphs">45</text>
<text x="114.80" y="268.11" font-size="26.0" font-weight="bold" text-anchor="end" fill="#000" textLength="32" lengthAdjust="spacingAndGlyphs">40</text>
<text x="114.80" y="360.61" font-size="26.0" font-weight="bold" text-anchor="end" fill="#000" textLength="32" lengthAdjust="spacingAndGlyphs">35</text>
<text x="114.80" y="453.51" font-size="26.0" font-weight="bold" text-anchor="end" fill="#000" textLength="32" lengthAdjust="spacingAndGlyphs">30</text>
<text x="113.80" y="517.91" font-size="26.0" font-weight="bold" text-anchor="end" fill="#000" textLength="54.5" lengthAdjust="spacingAndGlyphs">1.02</text>
<text x="113.80" y="611.51" font-size="26.0" font-weight="bold" text-anchor="end" fill="#000" textLength="54.5" lengthAdjust="spacingAndGlyphs">0.98</text>
<text x="113.80" y="705.11" font-size="26.0" font-weight="bold" text-anchor="end" fill="#000" textLength="54.5" lengthAdjust="spacingAndGlyphs">0.94</text>
<text x="113.80" y="798.71" font-size="26.0" font-weight="bold" text-anchor="end" fill="#000" textLength="54.5" lengthAdjust="spacingAndGlyphs">0.90</text>
<text x="113.80" y="892.31" font-size="26.0" font-weight="bold" text-anchor="end" fill="#000" textLength="54.5" lengthAdjust="spacingAndGlyphs">0.86</text>
<text x="114.80" y="948.19" font-size="26.5" font-weight="bold" text-anchor="end" fill="#000" textLength="45.5" lengthAdjust="spacingAndGlyphs">190</text>
<text x="114.80" y="1001.69" font-size="26.5" font-weight="bold" text-anchor="end" fill="#000" textLength="45.5" lengthAdjust="spacingAndGlyphs">180</text>
<text x="114.80" y="1054.19" font-size="26.5" font-weight="bold" text-anchor="end" fill="#000" textLength="45.5" lengthAdjust="spacingAndGlyphs">170</text>
<text x="114.80" y="1108.39" font-size="26.5" font-weight="bold" text-anchor="end" fill="#000" textLength="45.5" lengthAdjust="spacingAndGlyphs">160</text>
<text x="114.80" y="1162.19" font-size="26.5" font-weight="bold" text-anchor="end" fill="#000" textLength="45.5" lengthAdjust="spacingAndGlyphs">150</text>
<text x="114.80" y="1214.99" font-size="26.5" font-weight="bold" text-anchor="end" fill="#000" textLength="45.5" lengthAdjust="spacingAndGlyphs">140</text>
<text x="114.80" y="1268.39" font-size="26.5" font-weight="bold" text-anchor="end" fill="#000" textLength="45.5" lengthAdjust="spacingAndGlyphs">130</text>
<text x="114.80" y="1323.69" font-size="26.5" font-weight="bold" text-anchor="end" fill="#000" textLength="45.5" lengthAdjust="spacingAndGlyphs">120</text>
<text x="202.60" y="1359.73" font-size="25.5" font-weight="bold" text-anchor="middle" fill="#000" textLength="27.5" lengthAdjust="spacingAndGlyphs">10</text>
<text x="320.30" y="1359.73" font-size="25.5" font-weight="bold" text-anchor="middle" fill="#000" textLength="27.5" lengthAdjust="spacingAndGlyphs">15</text>
<text x="438.30" y="1359.73" font-size="25.5" font-weight="bold" text-anchor="middle" fill="#000" textLength="27.5" lengthAdjust="spacingAndGlyphs">20</text>
<text x="554.70" y="1359.73" font-size="25.5" font-weight="bold" text-anchor="middle" fill="#000" textLength="27.5" lengthAdjust="spacingAndGlyphs">35</text>
<text x="672.30" y="1359.73" font-size="25.5" font-weight="bold" text-anchor="middle" fill="#000" textLength="27.5" lengthAdjust="spacingAndGlyphs">50</text>
<text x="886.30" y="1359.73" font-size="25.5" font-weight="bold" text-anchor="middle" fill="#000" textLength="27.5" lengthAdjust="spacingAndGlyphs">10</text>
<text x="1004.30" y="1359.73" font-size="25.5" font-weight="bold" text-anchor="middle" fill="#000" textLength="27.5" lengthAdjust="spacingAndGlyphs">15</text>
<text x="1122.00" y="1359.73" font-size="25.5" font-weight="bold" text-anchor="middle" fill="#000" textLength="27.5" lengthAdjust="spacingAndGlyphs">20</text>
<text x="1240.10" y="1359.73" font-size="25.5" font-weight="bold" text-anchor="middle" fill="#000" textLength="27.5" lengthAdjust="spacingAndGlyphs">35</text>
<text x="1358.10" y="1359.73" font-size="25.5" font-weight="bold" text-anchor="middle" fill="#000" textLength="27.5" lengthAdjust="spacingAndGlyphs">50</text>
<text x="432.90" y="1394.60" font-size="28" font-weight="bold" text-anchor="middle" fill="#000" textLength="126" lengthAdjust="spacingAndGlyphs">Time (min)</text>
<text x="1120.00" y="1396.40" font-size="28" font-weight="bold" text-anchor="middle" fill="#000" textLength="126" lengthAdjust="spacingAndGlyphs">Time (min)</text>
<text x="16.00" y="40.00" font-size="32.5" font-weight="bold" text-anchor="start" fill="#000" >A</text>
<text x="777.50" y="40.00" font-size="32.5" font-weight="bold" text-anchor="start" fill="#000" >B</text>
<text x="16.50" y="495.00" font-size="32.5" font-weight="bold" text-anchor="start" fill="#000" >C</text>
<text x="777.50" y="494.50" font-size="32.5" font-weight="bold" text-anchor="start" fill="#000" >D</text>
<text x="16.50" y="924.00" font-size="32.5" font-weight="bold" text-anchor="start" fill="#000" >E</text>
<text x="777.50" y="924.00" font-size="32.5" font-weight="bold" text-anchor="start" fill="#000" >F</text>
<text x="445.00" y="36.70" font-size="38" font-weight="normal" text-anchor="middle" fill="#000" >MET</text>
<text x="1138.50" y="36.70" font-size="38" font-weight="normal" text-anchor="middle" fill="#000" >ET</text>
<line x1="1301" y1="61.8" x2="1349" y2="61.8" stroke="#474747" stroke-width="2.4" stroke-dasharray="4 4"/>
<rect x="1321.2" y="56.0" width="11.6" height="11.6" fill="#fff" stroke="#000" stroke-width="2.4" rx="1.2"/>
<text x="1357.00" y="70.30" font-size="25" font-weight="bold" text-anchor="start" fill="#000" >Pre</text>
<line x1="1301" y1="103.6" x2="1349" y2="103.6" stroke="#474747" stroke-width="2.4" stroke-dasharray="4 4"/>
<rect x="1320.0" y="96.6" width="14.0" height="14.0" fill="#000"/>
<text x="1357.00" y="112.10" font-size="25" font-weight="bold" text-anchor="start" fill="#000" >Post</text>
<text transform="translate(45.5,399) rotate(-90)" font-size="33" font-weight="bold" textLength="282" lengthAdjust="spacingAndGlyphs">VO<tspan font-size="21" dy="5">2</tspan><tspan dy="-5"> (mL·kg</tspan><tspan font-size="21" dy="-12">-1</tspan><tspan dy="12">·min</tspan><tspan font-size="21" dy="-12">-1</tspan><tspan dy="12">)</tspan></text>
<text transform="translate(30.4,725.0) rotate(-90)" font-size="32" font-weight="normal" stroke="#000" stroke-width="1.3" textLength="63" lengthAdjust="spacingAndGlyphs">RER</text>
<text transform="translate(35.5,1230.5) rotate(-90)" font-size="36.5" font-weight="bold" textLength="282" lengthAdjust="spacingAndGlyphs">HR (beats·min<tspan font-size="23" dy="-14">-1</tspan><tspan dy="14">)</tspan></text>
</svg>
</div></body></html>
